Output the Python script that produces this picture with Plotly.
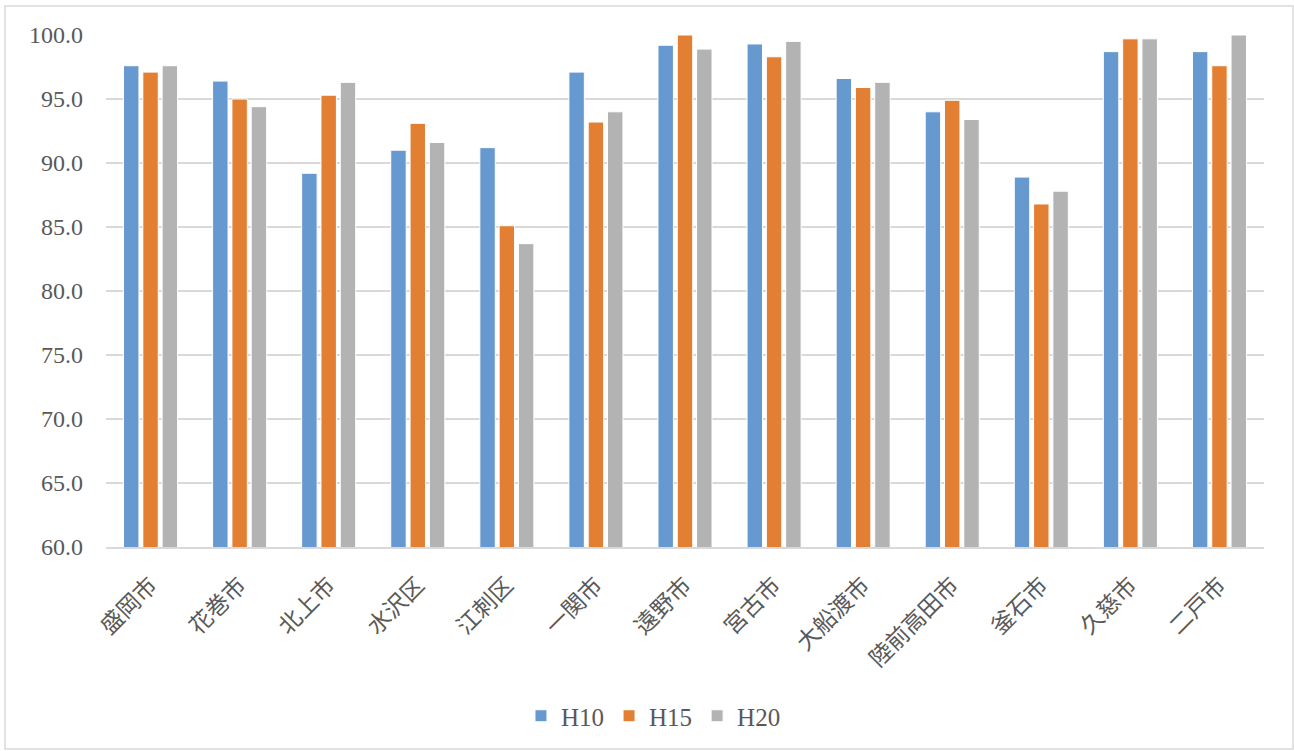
import plotly.graph_objects as go

# Municipality names (x categories)
cities = ["盛岡市", "花巻市", "北上市", "水沢区", "江刺区", "一関市", "遠野市",
          "宮古市", "大船渡市", "陸前高田市", "釜石市", "久慈市", "二戸市"]

# Series values per year
h10 = [97.6, 96.4, 89.2, 91.0, 91.2, 97.1, 99.2, 99.3, 96.6, 94.0, 88.9, 98.7, 98.7]
h15 = [97.1, 95.0, 95.3, 93.1, 85.1, 93.2, 100.0, 98.3, 95.9, 94.9, 86.8, 99.7, 97.6]
h20 = [97.6, 94.4, 96.3, 91.6, 83.7, 94.0, 98.9, 99.5, 96.3, 93.4, 87.8, 99.7, 100.0]

series_names = ["H10", "H15", "H20"]
colors = ["#6699CF", "#E37F33", "#B3B3B3"]

y_ticks = [60, 65, 70, 75, 80, 85, 90, 95, 100]

FONT = "Liberation Serif, Noto Sans CJK JP, serif"
TEXT_COLOR = "#595959"

fig = go.Figure()
for name, vals, col in zip(series_names, [h10, h15, h20], colors):
    fig.add_trace(go.Bar(
        x=cities, y=vals, name=name,
        marker=dict(color=col, line=dict(color="white", width=1)),
    ))

W, H = 1294, 751
ml, mr, mt, mb = 106, 30, 35, 204
pw, ph = W - ml - mr, H - mt - mb

fig.update_layout(
    width=W, height=H,
    margin=dict(l=ml, r=mr, t=mt, b=mb, autoexpand=False),
    paper_bgcolor="white", plot_bgcolor="white",
    barmode="group", bargap=0.35, bargroupgap=0.2,
    font=dict(family=FONT, color=TEXT_COLOR, size=20),
    showlegend=True,
    legend=dict(orientation="h", xref="container", yref="container",
                x=0.505, xanchor="center", y=(H - 716) / H,
                yanchor="middle", font=dict(size=25, color=TEXT_COLOR),
                itemwidth=30, traceorder="normal"),
    xaxis=dict(
        tickangle=-45, tickfont=dict(size=23, color=TEXT_COLOR),
        showline=True, linecolor="#D9D9D9", linewidth=1.5,
        showgrid=False, ticks="", ticklabelstandoff=14,
    ),
    yaxis=dict(
        range=[60, 100], tickvals=y_ticks,
        ticktext=[f"{v:.1f}" for v in y_ticks],
        tickfont=dict(size=24, color=TEXT_COLOR),
        showgrid=True, gridcolor="#D9D9D9", gridwidth=1.5,
        zeroline=False, showline=False, ticks="", ticklabelstandoff=22,
    ),
    shapes=[dict(
        type="rect", xref="paper", yref="paper",
        x0=(5 - ml) / pw, x1=(1293 - ml) / pw,
        y0=(547 - 749) / ph, y1=(547 - 6) / ph,
        line=dict(color="#D9D9D9", width=1.5), fillcolor="rgba(0,0,0,0)",
        layer="below",
    )],
)

fig.write_html("out.html")
